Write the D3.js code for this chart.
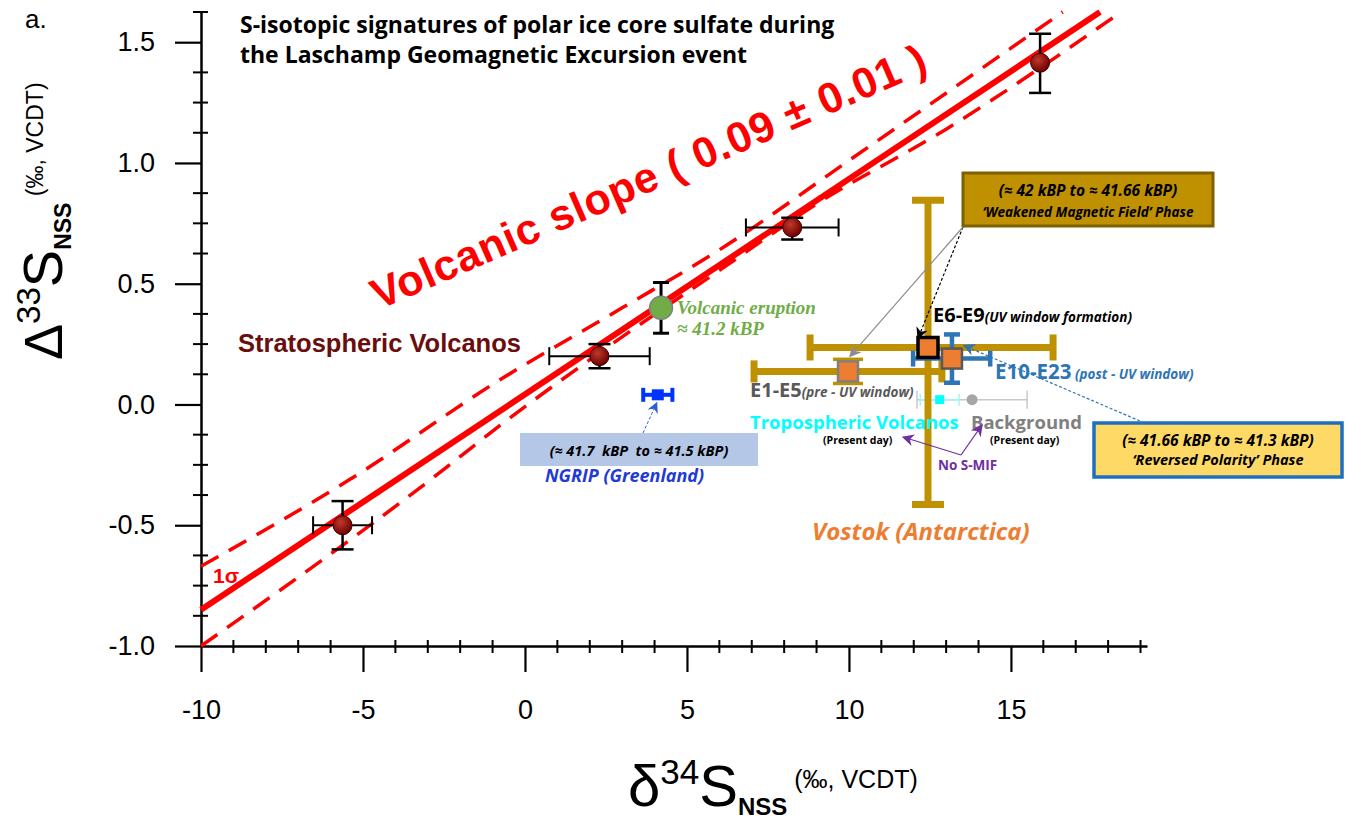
<!DOCTYPE html>
<html>
<head>
<meta charset="utf-8">
<script src="https://cdn.jsdelivr.net/npm/d3@7"></script>
<style>
  body { margin: 0; background: #fff; }
  svg { display: block; }
</style>
</head>
<body>
<div id="chart"></div>
<script>
// ---- data ----
// stratospheric volcanos (dark red circles)
var stratoX = [-5.63, 2.3, 8.25, 15.9];
var stratoY = [-0.5, 0.2, 0.733, 1.415];
var stratoXErr = [0.91, 1.55, 1.43, 0];
var stratoYErrUp = [0.1, 0.05, 0.04, 0.12];
var stratoYErrDn = [0.1, 0.05, 0.05, 0.125];

// volcanic eruption ~41.2 kBP (green)
var eruptX = [4.2];
var eruptY = [0.40];
var eruptYErr = [0.105];

// NGRIP (Greenland)
var ngripX = [4.1];
var ngripY = [0.04];
var ngripXErr = [0.45];

// Vostok (Antarctica) groups
var vostokGroups = ["E1-E5", "E6-E9", "E10-E23"];
var vostokX = [9.97, 12.44, 13.18];
var vostokY = [0.137, 0.236, 0.19];
var vostokXErrLo = [2.9, 3.64, 1.2];
var vostokXErrHi = [2.9, 3.86, 1.18];
var vostokYErrUp = [0.05, 0.61, 0.1];
var vostokYErrDn = [0.05, 0.65, 0.1];

// present day references
var tropoX = [12.8], tropoY = [0.02], tropoXErr = [0.6];
var bgX = [13.8], bgY = [0.02], bgXErrLo = [1.7], bgXErrHi = [1.7];

// volcanic slope fit and 1 sigma band
var fitX = [-10, 17.75];
var fitY = [-0.85, 1.625];
var bandUpX = [-10, -5.4, -0.8, 3, 6, 10, 16.6];
var bandUpY = [-0.67, -0.31, 0.10, 0.40, 0.64, 1.01, 1.625];
var bandLoX = [-10, -2.9, -0.8, 3, 6, 9, 13, 18.4];
var bandLoY = [-1.0, -0.31, -0.09, 0.28, 0.555, 0.83, 1.14, 1.625];

// axes
var xMajor = [-10, -5, 0, 5, 10, 15];
var xMinor = d3.range(-9, 20).filter(function (d) { return d % 5 !== 0; });
var yMajor = [-1.0, -0.5, 0.0, 0.5, 1.0, 1.5];
var yMinor = [-0.875, -0.75, -0.625, -0.375, -0.25, -0.125, 0.125, 0.25, 0.375,
              0.625, 0.75, 0.875, 1.125, 1.25, 1.375, 1.625];

var W = 1349, H = 823;
var svg = d3.select("#chart").append("svg")
    .attr("width", W)
    .attr("height", H);

var defs = svg.append("defs");
function marker(id, color, size) {
    defs.append("marker")
        .attr("id", id)
        .attr("viewBox", "0 0 10 10")
        .attr("refX", 9).attr("refY", 5)
        .attr("markerWidth", size).attr("markerHeight", size)
        .attr("markerUnits", "userSpaceOnUse")
        .attr("orient", "auto")
        .append("path")
        .attr("d", "M0,0 L10,5 L0,10 L3,5 z")
        .attr("fill", color);
}
marker("arBlack", "#000", 12);
marker("arGray", "#8c8c8c", 12);
marker("arBlue", "#2b5fd9", 11);
marker("arBlue2", "#2e75b6", 12);
marker("arPurple", "#7030a0", 12);

var grad = defs.append("radialGradient").attr("id", "redBall")
    .attr("cx", "40%").attr("cy", "35%").attr("r", "65%");
grad.append("stop").attr("offset", "0%").attr("stop-color", "#c0392b");
grad.append("stop").attr("offset", "100%").attr("stop-color", "#6e0000");

var x = d3.scaleLinear().domain([-10, 19.2]).range([201, 1147]);
var y = d3.scaleLinear().domain([-1, 1.625]).range([646, 12]);

// ---- axes ----
var axisFont = "'Liberation Sans', Arial, sans-serif";
var gx = svg.append("g")
    .attr("transform", "translate(0," + y(-1) + ")")
    .call(d3.axisBottom(x).tickValues(xMajor).tickSize(26).tickSizeOuter(0)
        .tickPadding(28).tickFormat(function (d) { return String(d); }));
var gy = svg.append("g")
    .attr("transform", "translate(" + x(-10) + ",0)")
    .call(d3.axisLeft(y).tickValues(yMajor).tickSize(26).tickSizeOuter(0)
        .tickPadding(20).tickFormat(function (d) { return d.toFixed(1); }));
[gx, gy].forEach(function (g) {
    g.select(".domain").attr("stroke", "#000").attr("stroke-width", 2.5);
    g.selectAll(".tick line").attr("stroke", "#000").attr("stroke-width", 2.2);
    g.selectAll(".tick text").attr("fill", "#000")
        .style("font-family", axisFont).style("font-size", "27px");
});
svg.append("g").selectAll("line").data(xMinor).enter().append("line")
    .attr("x1", function (d) { return x(d); }).attr("x2", function (d) { return x(d); })
    .attr("y1", y(-1) - 6).attr("y2", y(-1) + 7)
    .attr("stroke", "#000").attr("stroke-width", 2);
svg.append("g").selectAll("line").data(yMinor).enter().append("line")
    .attr("y1", function (d) { return y(d); }).attr("y2", function (d) { return y(d); })
    .attr("x1", x(-10) - 8).attr("x2", x(-10) + 7)
    .attr("stroke", "#000").attr("stroke-width", 2);

// axis titles
var yl = svg.append("text")
    .attr("transform", "translate(62,360) rotate(-90)")
    .style("font-family", axisFont).attr("fill", "#000");
yl.append("tspan").text("\u0394").style("font-size", "54px");
yl.append("tspan").text("33").style("font-size", "33px").attr("dy", -22);
yl.append("tspan").text("S").style("font-size", "56px").attr("dy", 22);
yl.append("tspan").text("NSS").style("font-size", "23px").style("font-weight", "bold").attr("dy", 9);
yl.append("tspan").text(" (\u2030, VCDT)").style("font-size", "23px").attr("dy", -28);

var xl = svg.append("text")
    .attr("transform", "translate(628,806)")
    .style("font-family", axisFont).attr("fill", "#000");
xl.append("tspan").text("\u03b4").style("font-size", "58px");
xl.append("tspan").text("34").style("font-size", "35px").attr("dy", -22);
xl.append("tspan").text("S").style("font-size", "58px").attr("dy", 22);
xl.append("tspan").text("NSS").style("font-size", "24px").style("font-weight", "bold").attr("dy", 9);
xl.append("tspan").text(" (\u2030, VCDT)").style("font-size", "25px").attr("dy", -27);

// ---- fit line and band ----
var line = d3.line().x(function (d) { return x(d[0]); }).y(function (d) { return y(d[1]); });
var curve = d3.line().curve(d3.curveMonotoneX)
    .x(function (d) { return x(d[0]); }).y(function (d) { return y(d[1]); });

svg.append("path")
    .datum(d3.zip(bandUpX, bandUpY))
    .attr("d", curve).attr("fill", "none")
    .attr("stroke", "#ff0000").attr("stroke-width", 3.5).attr("stroke-dasharray", "20,12");
svg.append("path")
    .datum(d3.zip(bandLoX, bandLoY))
    .attr("d", curve).attr("fill", "none")
    .attr("stroke", "#ff0000").attr("stroke-width", 3.5).attr("stroke-dasharray", "20,12");
svg.append("path")
    .datum(d3.zip(fitX, fitY))
    .attr("d", line).attr("fill", "none")
    .attr("stroke", "#ff0000").attr("stroke-width", 6);

// ---- error bar helper ----
function errX(g, cx, cy, lo, hi, color, w, cap) {
    g.append("line").attr("x1", x(cx - lo)).attr("x2", x(cx + hi))
        .attr("y1", y(cy)).attr("y2", y(cy)).attr("stroke", color).attr("stroke-width", w);
    [cx - lo, cx + hi].forEach(function (v) {
        g.append("line").attr("x1", x(v)).attr("x2", x(v))
            .attr("y1", y(cy) - cap / 2).attr("y2", y(cy) + cap / 2)
            .attr("stroke", color).attr("stroke-width", w);
    });
}
function errY(g, cx, cy, dn, up, color, w, cap) {
    g.append("line").attr("x1", x(cx)).attr("x2", x(cx))
        .attr("y1", y(cy - dn)).attr("y2", y(cy + up)).attr("stroke", color).attr("stroke-width", w);
    [cy - dn, cy + up].forEach(function (v) {
        g.append("line").attr("y1", y(v)).attr("y2", y(v))
            .attr("x1", x(cx) - cap / 2).attr("x2", x(cx) + cap / 2)
            .attr("stroke", color).attr("stroke-width", w);
    });
}

// ---- present day references ----
var gRef = svg.append("g");
errX(gRef, bgX[0], bgY[0], bgXErrLo[0], bgXErrHi[0], "#c8c8c8", 1.5, 18);
gRef.append("circle").attr("cx", x(bgX[0])).attr("cy", y(bgY[0])).attr("r", 5.5)
    .attr("fill", "#a6a6a6");
errX(gRef, tropoX[0], tropoY[0], tropoXErr[0], tropoXErr[0], "#9ff5f5", 1.5, 12);
gRef.append("rect").attr("x", x(tropoX[0]) - 4.5).attr("y", y(tropoY[0]) - 4.5)
    .attr("width", 9).attr("height", 9).attr("fill", "#00ffff");

// ---- Vostok ----
var gold = "#bf9000";
var gV = svg.append("g");
// E1-E5
errX(gV, vostokX[0], vostokY[0], vostokXErrLo[0], vostokXErrHi[0], gold, 7, 22);
errY(gV, vostokX[0], vostokY[0], vostokYErrDn[0], vostokYErrUp[0], gold, 3.5, 30);
// E6-E9
errX(gV, vostokX[1], vostokY[1], vostokXErrLo[1], vostokXErrHi[1], gold, 7, 26);
errY(gV, vostokX[1], vostokY[1], vostokYErrDn[1], vostokYErrUp[1], gold, 7, 32);
// E10-E23
errX(gV, vostokX[2], vostokY[2], vostokXErrLo[2], vostokXErrHi[2], "#2e75b6", 4.5, 16);
errY(gV, vostokX[2], vostokY[2], vostokYErrDn[2], vostokYErrUp[2], "#2e75b6", 4.5, 16);

var sqStroke = ["#7f7f7f", "#000000", "#595959"];
var sqWidth = [2.5, 3.5, 2.5];
gV.selectAll("rect.vostok").data(vostokGroups).enter().append("rect")
    .attr("class", "vostok")
    .attr("x", function (d, i) { return x(vostokX[i]) - 10; })
    .attr("y", function (d, i) { return y(vostokY[i]) - 10; })
    .attr("width", 20).attr("height", 20)
    .attr("fill", "#ed7d31")
    .attr("stroke", function (d, i) { return sqStroke[i]; })
    .attr("stroke-width", function (d, i) { return sqWidth[i]; });

// ---- NGRIP ----
var gN = svg.append("g");
errX(gN, ngripX[0], ngripY[0], ngripXErr[0], ngripXErr[0], "#0033ff", 4, 14);
gN.append("rect").attr("x", x(ngripX[0]) - 6).attr("y", y(ngripY[0]) - 5.5)
    .attr("width", 12).attr("height", 11).attr("fill", "#0033ff");

// ---- stratospheric volcanos ----
var gS = svg.append("g");
stratoX.forEach(function (v, i) {
    if (stratoXErr[i] > 0) errX(gS, v, stratoY[i], stratoXErr[i], stratoXErr[i], "#000", 2, 18);
    errY(gS, v, stratoY[i], stratoYErrDn[i], stratoYErrUp[i], "#000", 2.5, 22);
});
gS.selectAll("circle").data(stratoX).enter().append("circle")
    .attr("cx", function (d) { return x(d); })
    .attr("cy", function (d, i) { return y(stratoY[i]); })
    .attr("r", 9.5)
    .attr("fill", "url(#redBall)").attr("stroke", "#3a0000").attr("stroke-width", 1);

var gE = svg.append("g");
errY(gE, eruptX[0], eruptY[0], eruptYErr[0], eruptYErr[0], "#000", 3, 16);
gE.append("circle").attr("cx", x(eruptX[0])).attr("cy", y(eruptY[0])).attr("r", 11.5)
    .attr("fill", "#70ad47").attr("stroke", "#7f7f7f").attr("stroke-width", 1.5);

// ---- annotations ----
var cal = "'Open Sans', Lato, sans-serif";
function txt(t, px, py, opt) {
    var e = svg.append("text").attr("x", px).attr("y", py)
        .style("font-family", opt.font || cal)
        .style("font-size", opt.size + "px")
        .style("font-weight", opt.weight || "bold")
        .style("font-style", opt.italic ? "italic" : "normal")
        .style("white-space", "pre")
        .attr("fill", opt.color || "#000")
        .text(t);
    if (opt.anchor) e.attr("text-anchor", opt.anchor);
    return e;
}
// label followed by a smaller italic note
function pair(big, small, px, py, bigSize, smallSize, color) {
    var e = svg.append("text").attr("x", px).attr("y", py)
        .style("font-family", cal).style("font-weight", "bold").attr("fill", color);
    e.append("tspan").text(big).style("font-size", bigSize + "px");
    e.append("tspan").text(small).style("font-size", smallSize + "px").style("font-style", "italic");
    return e;
}

txt("a.", 25, 28, { font: axisFont, size: 26, weight: "normal" });
txt("S-isotopic signatures of polar ice core sulfate during", 240, 33, { size: 23 });
txt("the Laschamp Geomagnetic Excursion event", 240, 63, { size: 23 });

svg.append("text")
    .attr("transform", "translate(379,310) rotate(-23.5)")
    .text("Volcanic slope ( 0.09 \u00b1 0.01 )")
    .style("font-family", axisFont).style("font-size", "43px").style("font-weight", "bold")
    .style("letter-spacing", "0.8px")
    .attr("fill", "#ff0000");

txt("Stratospheric Volcanos", 238, 352, { font: axisFont, size: 25.5, color: "#6a0d0d" });
txt("1\u03c3", 213, 583, { font: axisFont, size: 21, color: "#ff0000" });

txt("Volcanic eruption", 677, 314, { font: "'Liberation Serif', serif", size: 19, italic: true, color: "#70ad47" });
txt("\u2248 41.2 kBP", 677, 335, { font: "'Liberation Serif', serif", size: 19, italic: true, color: "#70ad47" });

// NGRIP box
svg.append("rect").attr("x", 520).attr("y", 433).attr("width", 238).attr("height", 33)
    .attr("fill", "#b4c7e7");
txt("(\u2248 41.7  kBP  to \u2248 41.5 kBP)", 639, 456, { size: 14.5, italic: true, anchor: "middle" });
txt("NGRIP (Greenland)", 545, 482, { size: 18, italic: true, color: "#1f3ad6" });
svg.append("line").attr("x1", 643).attr("y1", 433).attr("x2", x(ngripX[0]) - 1).attr("y2", y(ngripY[0]) + 8)
    .attr("stroke", "#2b5fd9").attr("stroke-width", 1).attr("stroke-dasharray", "3,2")
    .attr("marker-end", "url(#arBlue)");

// weakened field box
svg.append("rect").attr("x", 963).attr("y", 173).attr("width", 250).attr("height", 53)
    .attr("fill", "#bf9000").attr("stroke", "#7f6000").attr("stroke-width", 3);
txt("(\u2248 42 kBP to \u2248 41.66 kBP)", 1088, 196, { size: 15.5, italic: true, anchor: "middle" });
txt("\u2018Weakened Magnetic Field\u2019 Phase", 1088, 217, { size: 13.5, italic: true, anchor: "middle" });
svg.append("line").attr("x1", 963).attr("y1", 227).attr("x2", x(vostokX[1]) - 10).attr("y2", y(vostokY[1]) - 9)
    .attr("stroke", "#000").attr("stroke-width", 1.2).attr("stroke-dasharray", "3,2")
    .attr("marker-end", "url(#arBlack)");
svg.append("line").attr("x1", 963).attr("y1", 227).attr("x2", x(vostokX[0]) + 2).attr("y2", y(vostokY[0]) - 15)
    .attr("stroke", "#8c8c8c").attr("stroke-width", 1.2)
    .attr("marker-end", "url(#arGray)");

// reversed polarity box
svg.append("rect").attr("x", 1094).attr("y", 423).attr("width", 248).attr("height", 54)
    .attr("fill", "#ffd966").attr("stroke", "#1f6fc0").attr("stroke-width", 3.5);
txt("(\u2248 41.66 kBP to \u2248 41.3 kBP)", 1218, 446, { size: 15.5, italic: true, anchor: "middle" });
txt("\u2018Reversed Polarity\u2019 Phase", 1218, 465, { size: 14.5, italic: true, anchor: "middle" });
svg.append("line").attr("x1", 1140).attr("y1", 421).attr("x2", x(vostokX[2]) + 12).attr("y2", y(vostokY[2]) - 13)
    .attr("stroke", "#2e75b6").attr("stroke-width", 1.2).attr("stroke-dasharray", "3,2")
    .attr("marker-end", "url(#arBlue2)");

// group labels
pair("E6-E9", "(UV window formation)", 933, 322, 20, 13.5, "#000");
pair("E1-E5", "(pre - UV window)", 750, 397, 20, 13.5, "#595959");
pair("E10-E23", " (post - UV window)", 995, 379, 20.5, 13.5, "#2e75b6");
txt("Tropospheric Volcanos", 750, 429, { size: 18.5, color: "#00ffff" });
txt("Background", 971, 429, { size: 18.5, color: "#808080" });
txt("(Present day)", 823, 444, { size: 10.5 });
txt("(Present day)", 990, 444, { size: 10.5 });
txt("No S-MIF", 938, 470, { size: 13.5, color: "#7030a0" });
svg.append("line").attr("x1", 961).attr("y1", 455).attr("x2", 903).attr("y2", 437)
    .attr("stroke", "#7030a0").attr("stroke-width", 1.3).attr("marker-end", "url(#arPurple)");
svg.append("line").attr("x1", 961).attr("y1", 455).attr("x2", 982).attr("y2", 425)
    .attr("stroke", "#7030a0").attr("stroke-width", 1.3).attr("marker-end", "url(#arPurple)");
txt("Vostok (Antarctica)", 812, 540, { size: 24, italic: true, color: "#ed7d31" });
</script>
</body>
</html>
